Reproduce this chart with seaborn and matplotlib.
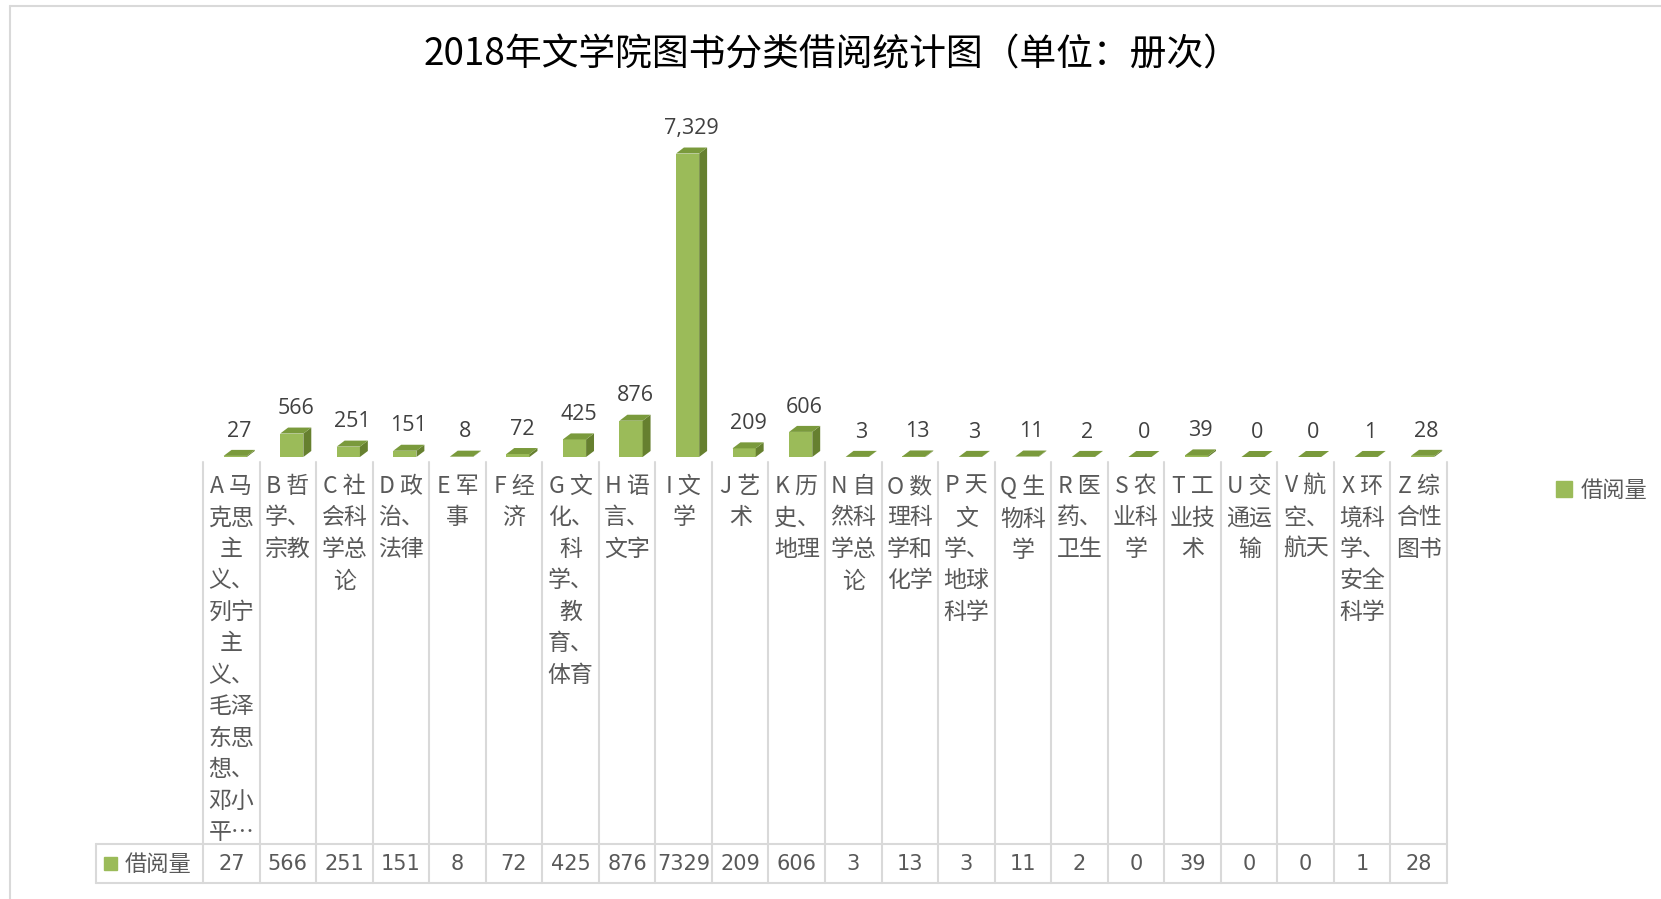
import matplotlib
matplotlib.use('Agg')
import matplotlib.pyplot as plt
import matplotlib.transforms as mtransforms
from matplotlib.patches import Polygon, Patch, Rectangle
from matplotlib.lines import Line2D
import seaborn as sns
import pandas as pd

title = '2018年文学院图书分类借阅统计图（单位：册次）'
series = '借阅量'
codes = ['A', 'B', 'C', 'D', 'E', 'F', 'G', 'H', 'I', 'J', 'K',
         'N', 'O', 'P', 'Q', 'R', 'S', 'T', 'U', 'V', 'X', 'Z']
# category labels, wrapped the way the chart shows them
labels = ['A 马\n克思\n主\n义、\n列宁\n主\n义、\n毛泽\n东思\n想、\n邓小\n平…',
          'B 哲\n学、\n宗教', 'C 社\n会科\n学总\n论', 'D 政\n治、\n法律',
          'E 军\n事', 'F 经\n济', 'G 文\n化、\n科\n学、\n教\n育、\n体育',
          'H 语\n言、\n文字', 'I 文\n学', 'J 艺\n术', 'K 历\n史、\n地理',
          'N 自\n然科\n学总\n论', 'O 数\n理科\n学和\n化学', 'P 天\n文\n学、\n地球\n科学',
          'Q 生\n物科\n学', 'R 医\n药、\n卫生', 'S 农\n业科\n学', 'T 工\n业技\n术',
          'U 交\n通运\n输', 'V 航\n空、\n航天', 'X 环\n境科\n学、\n安全\n科学',
          'Z 综\n合性\n图书']
values = [27, 566, 251, 151, 8, 72, 425, 876, 7329, 209, 606,
          3, 13, 3, 11, 2, 0, 39, 0, 0, 1, 28]

front = '#9BBB59'
side = '#66802F'
top = '#7A9A3C'
grid = '#D9D9D9'
txt = '#595959'

sns.set_style('white')
plt.rcParams['font.family'] = ['Noto Sans CJK SC', 'DejaVu Sans']

W, H = 1661, 899
fig = plt.figure(figsize=(W / 100, H / 100), dpi=100)

def fx(px):
    return px / W

def fy(py):
    return 1 - py / H

floor_y, top_y = 457, 110
left_x, right_x = 203, 1447
ax = fig.add_axes([fx(left_x), fy(floor_y), fx(right_x - left_x), (floor_y - top_y) / H])

df = pd.DataFrame({'cat': codes, 'val': values})
sns.barplot(data=df, x='cat', y='val', color=front, saturation=1, width=0.41,
            edgecolor='none', ax=ax)
ymax = 8380
ax.set_xlim(-0.5, len(codes) - 0.5)
ax.set_ylim(0, ymax)
ax.axis('off')

# fake 3d: side and top faces
dx = 0.14
dy = ymax / (floor_y - top_y) * 6
for p in ax.patches:
    p.set_x(p.get_x() + 0.07)
    x0, w, h = p.get_x(), p.get_width(), p.get_height()
    ax.add_patch(Polygon([(x0 + w, 0), (x0 + w + dx, dy), (x0 + w + dx, h + dy), (x0 + w, h)],
                         closed=True, facecolor=side, edgecolor='none'))
    ax.add_patch(Polygon([(x0, h), (x0 + w, h), (x0 + w + dx, h + dy), (x0 + dx, h + dy)],
                         closed=True, facecolor=top, edgecolor='none'))
    ax.annotate('{:,}'.format(int(round(h))), (x0 + w / 2 + dx / 2, h + dy),
                xytext=(0, 6), textcoords='offset points', ha='center', va='bottom',
                fontsize=15.5, color='#404040', family=['Open Sans', 'DejaVu Sans'],
                annotation_clip=False)

fig.text(fx(832), fy(55), title, ha='center', va='center', fontsize=26.5, color='black')

# category labels and data table
tr = mtransforms.blended_transform_factory(ax.transData, fig.transFigure)
for i, lab in enumerate(labels):
    ax.text(i, fy(475), lab, transform=tr, ha='center', va='top', fontsize=16.5,
            color=txt, linespacing=1.47, multialignment='center')
    ax.text(i, fy(864), str(values[i]), transform=tr, ha='center', va='center',
            fontsize=15, color=txt, family=['Liberation Sans Narrow', 'DejaVu Sans'])

n = len(codes)
for i in range(n + 1):
    ax.add_line(Line2D([i - 0.5, i - 0.5], [fy(462), fy(883)], transform=tr,
                       color=grid, lw=1.5, clip_on=False))
for yy in (844, 883):
    fig.add_artist(Line2D([fx(96), fx(right_x)], [fy(yy), fy(yy)], color=grid, lw=1.5))
fig.add_artist(Line2D([fx(96), fx(96)], [fy(844), fy(883)], color=grid, lw=1.5))
fig.add_artist(Rectangle((fx(104), fy(870)), fx(13), 13 / H, color=front))
fig.text(fx(125), fy(864), series, ha='left', va='center', fontsize=16, color=txt)

# outer border
fig.add_artist(Line2D([fx(10), fx(10)], [0, fy(6)], color=grid, lw=1.5))
fig.add_artist(Line2D([fx(10), 1], [fy(6), fy(6)], color=grid, lw=1.5))

ax.legend(handles=[Patch(color=front, label=series)], loc='center left',
          bbox_to_anchor=(fx(1536), fy(490)), bbox_transform=fig.transFigure,
          frameon=False, handlelength=0.7, handleheight=0.7, handletextpad=0.4,
          fontsize=16, labelcolor=txt)

fig.savefig('out.png', dpi=100)
